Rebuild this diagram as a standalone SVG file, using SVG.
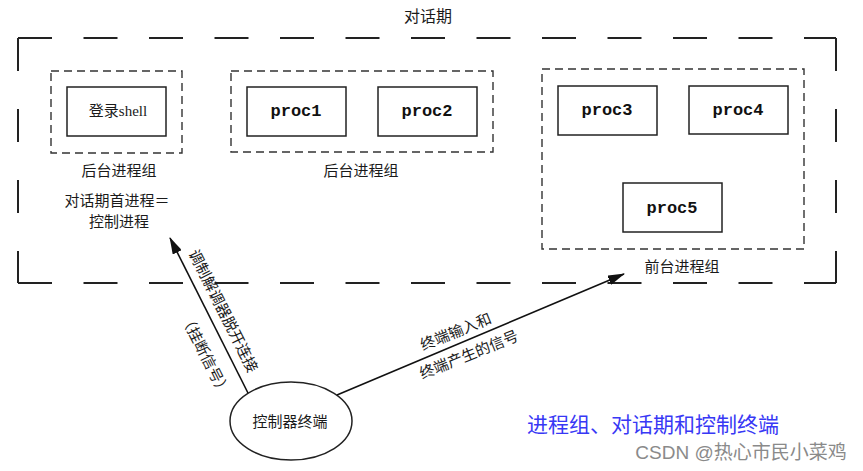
<svg xmlns="http://www.w3.org/2000/svg" width="863" height="471" viewBox="0 0 863 471">
<style>
  .cn { font-family: "Liberation Serif", "Noto Sans CJK SC", serif; fill: #1a1a1a; }
  .lbl { font-size: 15px; text-anchor: middle; dominant-baseline: central; }
  .proc { font-family: "Liberation Mono", monospace; font-weight: bold; font-size: 17px; text-anchor: middle; dominant-baseline: central; fill: #111; }
  .box { fill: #fff; stroke: #222; stroke-width: 1.5; }
  .grp { fill: none; stroke: #333; stroke-width: 1.4; stroke-dasharray: 8 5; }
  .outer { fill: none; stroke: #222; stroke-width: 2; }
  .conn { stroke: #111; stroke-width: 1.6; fill: none; marker-end: url(#ah); }
</style>
<defs>
  <marker id="ah" markerUnits="userSpaceOnUse" markerWidth="17" markerHeight="10" refX="16" refY="5" orient="auto">
    <path d="M0,0 L17,5 L0,10 Z" fill="#111"/>
  </marker>
</defs>
<rect width="863" height="471" fill="#fff"/>

<g id="session">
  <text class="cn" x="428" y="16" font-size="16" text-anchor="middle" dominant-baseline="central">对话期</text>
  <path class="outer" d="M18,38 H836" stroke-dasharray="34 31.5"/>
  <path class="outer" d="M18,283 H836" stroke-dasharray="34 31.5"/>
  <path class="outer" d="M18,38 V283" stroke-dasharray="33 38"/>
  <path class="outer" d="M836,38 V283" stroke-dasharray="33 38"/>
</g>

<g id="group-login">
  <rect class="grp" x="51" y="71" width="131" height="82"/>
  <text class="cn lbl" x="119" y="171">后台进程组</text>
  <text class="cn lbl" x="117" y="201">对话期首进程＝</text>
  <text class="cn lbl" x="119" y="222">控制进程</text>
</g>
<g id="login-shell">
  <rect class="box" x="67" y="87" width="99" height="49"/>
  <text class="cn lbl" x="118" y="111" font-size="14">登录shell</text>
</g>

<g id="group-bg">
  <rect class="grp" x="231" y="71" width="262" height="81"/>
  <text class="cn lbl" x="361" y="171">后台进程组</text>
</g>
<g id="proc1">
  <rect class="box" x="247" y="87" width="99" height="49"/>
  <text class="proc" x="296" y="111">proc1</text>
</g>
<g id="proc2">
  <rect class="box" x="378" y="87" width="99" height="49"/>
  <text class="proc" x="427" y="111">proc2</text>
</g>

<g id="group-fg">
  <rect class="grp" x="542" y="69" width="262" height="180"/>
  <text class="cn lbl" x="682" y="267">前台进程组</text>
</g>
<g id="proc3">
  <rect class="box" x="558" y="86" width="99" height="49"/>
  <text class="proc" x="607" y="110">proc3</text>
</g>
<g id="proc4">
  <rect class="box" x="689" y="86" width="99" height="48"/>
  <text class="proc" x="738" y="110">proc4</text>
</g>
<g id="proc5">
  <rect class="box" x="623" y="183" width="99" height="49"/>
  <text class="proc" x="672" y="208">proc5</text>
</g>

<g id="terminal">
  <ellipse cx="291" cy="421" rx="61" ry="39" fill="#fff" stroke="#222" stroke-width="1.5"/>
  <text class="cn lbl" x="290" y="422" font-size="16">控制器终端</text>
</g>

<g id="connectors">
  <line class="conn" x1="248" y1="393" x2="170" y2="238"/>
  <line class="conn" x1="337" y1="395" x2="624" y2="274"/>
  <text class="cn lbl" transform="translate(223,311) rotate(63.3)">调制解调器脱开连接</text>
  <text class="cn lbl" transform="translate(205,355) rotate(63.3)">（挂断信号）</text>
  <text class="cn lbl" transform="translate(456,332) rotate(-22)">终端输入和</text>
  <text class="cn lbl" transform="translate(469,355) rotate(-22)">终端产生的信号</text>
</g>

<g id="caption">
  <text x="653" y="425" font-family="Liberation Serif, Noto Sans CJK SC, serif" font-size="21" fill="#3838f5" text-anchor="middle" dominant-baseline="central">进程组、对话期和控制终端</text>
  <text x="741" y="452" font-family="Liberation Sans, Noto Sans CJK SC, sans-serif" font-size="19" fill="#8a8a8a" text-anchor="middle" dominant-baseline="central">CSDN @热心市民小菜鸡</text>
</g>
</svg>
